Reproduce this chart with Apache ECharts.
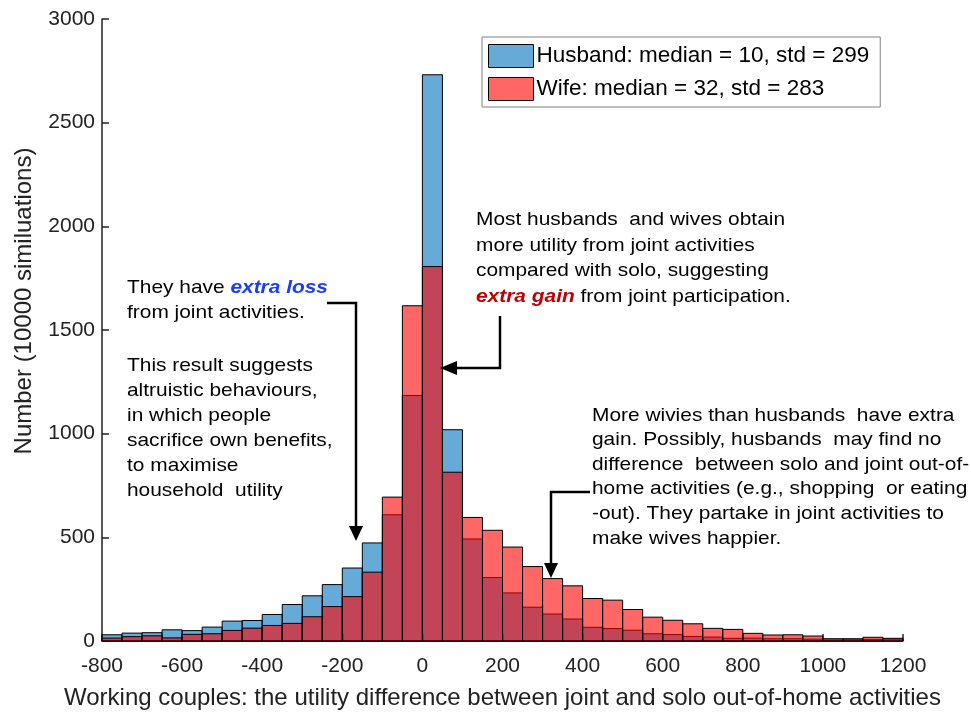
<!DOCTYPE html>
<html>
<head>
    <meta charset="utf-8">
    <title>Utility difference histogram</title>
    <script src="https://cdn.jsdelivr.net/npm/echarts@6/dist/echarts.min.js"></script>
    <style>
        html, body { margin: 0; padding: 0; background: #ffffff; }
        #chart { width: 971px; height: 715px; }
    </style>
</head>
<body>
<div id="chart"></div>
<script>
    // bin left edges (bin width 50)
    var binStarts = [-800, -750, -700, -650, -600, -550, -500, -450, -400, -350,
        -300, -250, -200, -150, -100, -50, 0, 50, 100, 150,
        200, 250, 300, 350, 400, 450, 500, 550, 600, 650,
        700, 750, 800, 850, 900, 950, 1000, 1050, 1100, 1150];
    var binWidth = 50;

    // counts
    var husbandCounts = [30, 38, 40, 54, 50, 67, 96, 99, 128, 176,
        218, 272, 352, 473, 609, 1184, 2731, 1019, 492, 306,
        232, 163, 130, 106, 66, 60, 52, 35, 31, 22,
        19, 13, 14, 11, 11, 9, 5, 6, 8, 9];
    var wifeCounts = [14, 21, 25, 15, 32, 35, 51, 62, 75, 85,
        117, 166, 214, 332, 694, 1617, 1806, 814, 596, 534,
        453, 359, 301, 266, 205, 197, 152, 115, 100, 83,
        61, 56, 37, 29, 30, 24, 11, 11, 18, 13];

    var xTicks = [-800, 1200, 200];   // min, max, interval
    var yTicks = [0, 3000, 500];

    var fontFam = "'Liberation Sans', Arial, sans-serif";

    function toBins(counts) {
        var out = [];
        for (var i = 0; i < binStarts.length; i++) {
            out.push([binStarts[i], binStarts[i] + binWidth, counts[i]]);
        }
        return out;
    }

    // draw one histogram bin through the axis scales
    function renderBin(params, api) {
        var top = api.coord([api.value(0), api.value(2)]);
        var bottom = api.coord([api.value(1), 0]);
        return {
            type: 'rect',
            shape: {x: top[0], y: top[1], width: bottom[0] - top[0], height: bottom[1] - top[1]},
            style: {fill: api.visual('color'), stroke: '#000', lineWidth: 1}
        };
    }

    // annotation text, stretched a little sideways like the original
    function note(x, y, text, lineH, rich) {
        return {
            type: 'text', x: x, y: y, z: 10, scaleX: 1.1,
            style: {
                text: text, font: '19px ' + fontFam, fill: '#000',
                lineHeight: lineH, align: 'left', verticalAlign: 'top',
                rich: rich || {}
            }
        };
    }

    var chart = echarts.init(document.getElementById('chart'), null, {renderer: 'canvas'});

    var option = {
        backgroundColor: '#fff',
        animation: false,
        grid: {left: 102, right: 68, top: 19, bottom: 72},
        legend: {
            left: 482,
            top: 37,
            orient: 'vertical',
            icon: 'rect',
            itemWidth: 45,
            itemHeight: 23,
            itemGap: 9,
            padding: [7, 11, 6, 6],
            borderColor: '#808080',
            borderWidth: 1,
            backgroundColor: '#fff',
            itemStyle: {borderColor: '#000', borderWidth: 1},
            textStyle: {fontSize: 22.5, color: '#000', fontFamily: fontFam, padding: [0, 0, 0, -2]},
            data: ['Husband: median = 10, std = 299', 'Wife: median = 32, std = 283']
        },
        xAxis: {
            type: 'value',
            min: xTicks[0],
            max: xTicks[1],
            interval: xTicks[2],
            name: 'Working couples: the utility difference between joint and solo out-of-home activities',
            nameLocation: 'middle',
            nameGap: 45,
            nameTextStyle: {fontSize: 24, color: '#222', fontFamily: fontFam},
            axisLine: {onZero: false, lineStyle: {color: '#222', width: 1.5}},
            axisTick: {inside: true, length: 7, lineStyle: {color: '#222', width: 1.5}},
            axisLabel: {fontSize: 21, color: '#222', fontFamily: fontFam, margin: 15,
                formatter: function (v) { return String(v); }},
            splitLine: {show: false}
        },
        yAxis: {
            type: 'value',
            min: yTicks[0],
            max: yTicks[1],
            interval: yTicks[2],
            name: 'Number (10000 similuations)',
            nameLocation: 'middle',
            nameGap: 66,
            nameTextStyle: {fontSize: 24, color: '#222', fontFamily: fontFam, padding: [0, 0, 0, 58]},
            axisLine: {show: true, onZero: false, lineStyle: {color: '#222', width: 1.5}},
            axisTick: {show: true, inside: true, length: 7, lineStyle: {color: '#222', width: 1.5}},
            axisLabel: {fontSize: 21, color: '#222', fontFamily: fontFam, margin: 7,
                formatter: function (v) { return String(v); }},
            splitLine: {show: false}
        },
        series: [
            {
                name: 'Husband: median = 10, std = 299',
                type: 'custom',
                renderItem: renderBin,
                itemStyle: {color: 'rgba(0, 114, 189, 0.6)'},
                encode: {x: [0, 1], y: 2},
                data: toBins(husbandCounts),
                z: 2
            },
            {
                name: 'Wife: median = 32, std = 283',
                type: 'custom',
                renderItem: renderBin,
                itemStyle: {color: 'rgba(255, 0, 0, 0.6)'},
                encode: {x: [0, 1], y: 2},
                data: toBins(wifeCounts),
                z: 3
            }
        ],
        graphic: [
            // left note
            note(127, 276, 'They have {b|extra loss}\nfrom joint activities.', 24.5,
                {b: {fill: '#1a3cff', fontWeight: 'bold', fontStyle: 'italic', fontSize: 19, fontFamily: fontFam, lineHeight: 24.5}}),
            note(127, 353, 'This result suggests\naltruistic behaviours,\nin which people\nsacrifice own benefits,\nto maximise\nhousehold  utility', 25),
            {type: 'polyline', z: 10, shape: {points: [[327, 303], [356, 303], [356, 528]]}, style: {stroke: '#000', lineWidth: 2.5, fill: null}},
            {type: 'polygon', z: 10, shape: {points: [[349, 526], [363, 526], [356, 541]]}, style: {fill: '#000'}},
            // middle note
            note(476, 207, 'Most husbands  and wives obtain\nmore utility from joint activities\ncompared with solo, suggesting\n{r|extra gain} from joint participation.', 25.7,
                {r: {fill: '#c00000', fontWeight: 'bold', fontStyle: 'italic', fontSize: 19, fontFamily: fontFam, lineHeight: 25.7}}),
            {type: 'polyline', z: 10, shape: {points: [[500, 316], [500, 368], [455, 368]]}, style: {stroke: '#000', lineWidth: 2.5, fill: null}},
            {type: 'polygon', z: 10, shape: {points: [[457, 361], [457, 375], [440, 368]]}, style: {fill: '#000'}},
            // right note
            note(592, 403, 'More wivies than husbands  have extra\ngain. Possibly, husbands  may find no\ndifference  between solo and joint out-of-\nhome activities (e.g., shopping  or eating\n-out). They partake in joint activities to\nmake wives happier.', 24.6),
            {type: 'polyline', z: 10, shape: {points: [[590, 492], [551, 492], [551, 565]]}, style: {stroke: '#000', lineWidth: 2.5, fill: null}},
            {type: 'polygon', z: 10, shape: {points: [[544, 563], [558, 563], [551, 578]]}, style: {fill: '#000'}}
        ]
    };

    chart.setOption(option);
</script>
</body>
</html>
